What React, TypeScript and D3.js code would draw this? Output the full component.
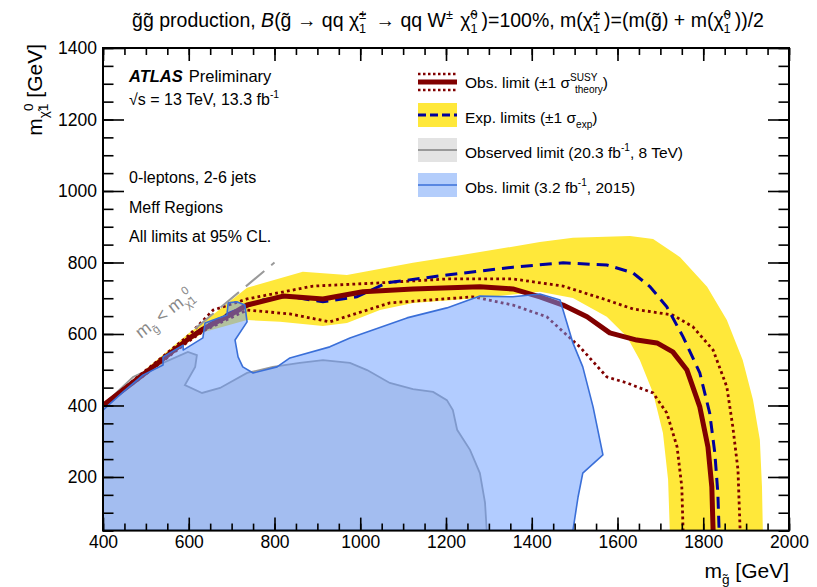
import React, { useEffect, useRef } from 'react';
import * as d3 from 'd3';

const W = 817;
const H = 587;
const FONT = '"Liberation Sans", Arial, Helvetica, sans-serif';

const xMajor = [400, 600, 800, 1000, 1200, 1400, 1600, 1800, 2000];
const yMajor = [200, 400, 600, 800, 1000, 1200, 1400];
const xMinor = d3.range(400, 2001, 50);
const yMinor = d3.range(50, 1401, 50);

// observed limit, nominal and +-1 sigma theory
const obsNominal = [
  [400, 400], [500, 492], [600, 587], [638, 617], [696, 653], [736, 681], [820, 706], [913, 698],
  [1006, 718], [1123, 726], [1279, 732], [1356, 726], [1419, 704], [1473, 681], [1529, 648],
  [1582, 603], [1645, 583], [1692, 575], [1729, 550], [1762, 499], [1792, 396], [1811, 284],
  [1820, 172], [1823, 50],
];
const obsUp = [
  [400, 401], [500, 498], [600, 596], [657, 667], [736, 698], [890, 734], [1046, 743], [1202, 754],
  [1356, 754], [1473, 734], [1575, 695], [1636, 670], [1729, 653], [1776, 620], [1823, 555],
  [1855, 452], [1869, 340], [1881, 220], [1886, 50],
];
const obsDown = [
  [400, 399], [500, 488], [600, 580], [638, 611], [736, 667], [836, 656], [929, 634], [1069, 687],
  [1263, 704], [1356, 681], [1435, 648], [1512, 564], [1575, 480], [1622, 463], [1683, 435],
  [1715, 379], [1739, 284], [1750, 172], [1753, 50],
];

// expected limit and +-1 sigma band
const expNominal = [
  [400, 400], [500, 493], [600, 588], [633, 617], [696, 659], [773, 695], [829, 706], [913, 690],
  [992, 704], [1062, 743], [1202, 765], [1356, 787], [1473, 799], [1575, 793], [1636, 771],
  [1676, 732], [1715, 676], [1753, 592], [1792, 491], [1815, 379], [1827, 267], [1834, 156], [1837, 50],
];
const expBandUp = [
  [400, 402], [500, 502], [600, 602], [626, 625], [736, 729], [866, 774], [969, 765], [1123, 799],
  [1279, 829], [1419, 857], [1496, 869], [1629, 874], [1683, 866], [1746, 815], [1809, 732],
  [1855, 639], [1892, 527], [1916, 416], [1932, 304], [1937, 172], [1939, 50],
];
const expBandDown = [
  [400, 398], [500, 486], [600, 578], [638, 606], [736, 639], [813, 634], [913, 622], [969, 631],
  [1046, 667], [1123, 687], [1279, 701], [1419, 718], [1496, 701], [1575, 648], [1622, 592],
  [1652, 527], [1683, 435], [1706, 323], [1718, 192], [1722, 50],
];

// 8 TeV (20.3 fb-1) observed limit
const run1Limit = [
  [400, 50], [400, 401], [470, 480], [540, 519], [598, 550], [619, 541], [615, 508], [591, 457],
  [631, 435], [673, 449], [736, 491], [796, 508], [859, 519], [913, 527], [976, 519], [1016, 499],
  [1069, 463], [1123, 446], [1170, 438], [1202, 415], [1216, 387], [1226, 332], [1256, 276],
  [1279, 211], [1291, 128], [1295, 50],
];

// 2015 (3.2 fb-1) observed limit
const early2015Limit = [
  [400, 50], [400, 387], [447, 438], [493, 485], [540, 513], [540, 536], [587, 569], [587, 555],
  [633, 589], [638, 631], [689, 653], [692, 687], [712, 690], [731, 681], [736, 634], [708, 583],
  [715, 536], [726, 508], [750, 491], [806, 508], [836, 533], [929, 564], [976, 589], [1109, 645],
  [1202, 673], [1279, 706], [1356, 704], [1419, 712], [1466, 695], [1496, 575], [1519, 508],
  [1543, 396], [1566, 262], [1519, 211], [1508, 144], [1496, 50],
];

const kinematicLine = [[615, 615], [800, 800]];

const YELLOW = '#ffe83a';
const RED = '#800000';
const NAVY = '#00009c';
const BLUE_LINE = '#3a6fd8';

// text with sub/superscripts
type Seg = string | { t?: string; i?: boolean; sup?: string; sub?: string; gap?: number };
const Rich = ({ x, y, fs, segs, anchor = 'start', fill = '#000', transform }: any) => {
  let cur = 0;
  let pad = 0;
  const out: any[] = [];
  const small = fs * 0.65;
  const wid = (s: string) => s.length * small * 0.56;
  (segs as Seg[]).forEach((s, k) => {
    if (typeof s === 'string' || s.t !== undefined) {
      const txt = typeof s === 'string' ? s : s.t;
      out.push(
        <tspan key={k} dx={pad || undefined} dy={-cur} fontStyle={typeof s !== 'string' && s.i ? 'italic' : undefined}>{txt}</tspan>
      );
      cur = 0;
      pad = 0;
    } else if (s.sup !== undefined && s.sub !== undefined) {
      const up = -0.42 * fs;
      const dn = 0.3 * fs;
      out.push(<tspan key={k + 'a'} dx={pad || undefined} dy={up - cur} fontSize={small}>{s.sup}</tspan>);
      out.push(<tspan key={k + 'b'} dx={-wid(s.sup)} dy={dn - up} fontSize={small}>{s.sub}</tspan>);
      cur = dn;
      pad = s.gap || 0;
    } else if (s.sup !== undefined) {
      const up = -0.42 * fs;
      out.push(<tspan key={k} dx={pad || undefined} dy={up - cur} fontSize={small}>{s.sup}</tspan>);
      cur = up;
      pad = s.gap || 0;
    } else if (s.sub !== undefined) {
      const dn = 0.3 * fs;
      out.push(<tspan key={k} dx={pad || undefined} dy={dn - cur} fontSize={small}>{s.sub}</tspan>);
      cur = dn;
      pad = s.gap || 0;
    }
  });
  return (
    <text x={x} y={y} fontSize={fs} textAnchor={anchor} fill={fill} transform={transform} fontFamily={FONT}>
      {out}
    </text>
  );
};

const gt = 'g\u0303';
const chi = '\u03c7\u0303';

const App = () => {
  const ref = useRef<SVGGElement>(null);

  const x = d3.scaleLinear().domain([400, 2000]).range([103, 789]);
  const y = d3.scaleLinear().domain([50, 1400]).range([530.6, 48]);
  const line = d3.line<number[]>().x(d => x(d[0])).y(d => y(d[1]));
  const area = (pts: number[][]) => line(pts) + 'Z';

  useEffect(() => {
    const g = d3.select(ref.current);
    g.selectAll('*').remove();
    const [x0, x1] = x.range();
    const [y0, y1] = y.range();

    const style = (sel: any) => {
      sel.select('.domain').remove();
      sel.selectAll('line').attr('stroke', '#000').attr('stroke-width', 1.6);
      sel.selectAll('text').attr('font-family', FONT).attr('font-size', 17.5).attr('fill', '#000');
    };

    g.append('g').attr('transform', `translate(0,${y0})`)
      .call(d3.axisBottom(x).tickValues(xMinor).tickSize(-7).tickFormat(() => '')).call(style);
    g.append('g').attr('transform', `translate(0,${y0})`)
      .call(d3.axisBottom(x).tickValues(xMajor).tickSize(-13).tickPadding(5).tickFormat(d3.format('d'))).call(style);
    g.append('g').attr('transform', `translate(0,${y1})`)
      .call(d3.axisTop(x).tickValues(xMinor).tickSize(-7).tickFormat(() => '')).call(style);
    g.append('g').attr('transform', `translate(0,${y1})`)
      .call(d3.axisTop(x).tickValues(xMajor).tickSize(-13).tickFormat(() => '')).call(style);

    g.append('g').attr('transform', `translate(${x0},0)`)
      .call(d3.axisLeft(y).tickValues(yMinor).tickSize(-10.5).tickFormat(() => '')).call(style);
    g.append('g').attr('transform', `translate(${x0},0)`)
      .call(d3.axisLeft(y).tickValues(yMajor).tickSize(-21).tickPadding(6).tickFormat(d3.format('d'))).call(style);
    g.append('g').attr('transform', `translate(${x1},0)`)
      .call(d3.axisRight(y).tickValues(yMinor).tickSize(-10.5).tickFormat(() => '')).call(style);
    g.append('g').attr('transform', `translate(${x1},0)`)
      .call(d3.axisRight(y).tickValues(yMajor).tickSize(-21).tickFormat(() => '')).call(style);

    g.append('rect')
      .attr('x', x0).attr('y', y1).attr('width', x1 - x0).attr('height', y0 - y1)
      .attr('fill', 'none').attr('stroke', '#000').attr('stroke-width', 2);
  }, []);

  return (
    <svg width={W} height={H} style={{ position: 'absolute', left: 0, top: 0, background: '#fff' }}>
      <defs>
        <clipPath id="plot">
          <rect x={103} y={48} width={686} height={482.6} />
        </clipPath>
      </defs>

      <g clipPath="url(#plot)">
        <path d={area(expBandUp.concat(expBandDown.slice().reverse()))} fill={YELLOW} />
        <path d={area(run1Limit)} fill="#e0e0e0" stroke="#999" strokeWidth={1.8} />
        <path d={line(obsUp) || ''} stroke={RED} strokeWidth={2.8} strokeDasharray="2.8,3.2" fill="none" />
        <path d={line(obsDown) || ''} stroke={RED} strokeWidth={2.8} strokeDasharray="2.8,3.2" fill="none" />
        <path d={line(expNominal) || ''} stroke={NAVY} strokeWidth={3} strokeDasharray="12,7" fill="none" />
        <path d={line(obsNominal) || ''} stroke={RED} strokeWidth={5} fill="none" strokeLinejoin="round" />
        <path d={area(early2015Limit)} fill="#6699ff" fillOpacity={0.5} stroke={BLUE_LINE} strokeWidth={1.6} strokeLinejoin="round" />
        <path d={line(kinematicLine) || ''} stroke="#999" strokeWidth={2} strokeDasharray="24,9" fill="none" />
      </g>

      <g ref={ref} />

      {/* title */}
      <Rich x={448} y={27} fs={19.5} anchor="middle" segs={[
        `${gt}${gt} production, `, { t: 'B', i: true }, `(${gt} \u2192 qq ${chi}`, { sup: '\u00b1', sub: '1', gap: 4 },
        ' \u2192 qq W', { sup: '\u00b1', gap: 2 }, ` ${chi}`, { sup: '0', sub: '1', gap: 4 }, ')=100%, m(', chi,
        { sup: '\u00b1', sub: '1', gap: 4 }, `)=(m(${gt}) + m(${chi}`, { sup: '0', sub: '1', gap: 4 }, '))/2',
      ]} />

      {/* axis titles */}
      <Rich x={789} y={578} fs={21} anchor="end" segs={['m', { sub: gt }, ' [GeV]']} />
      <g transform="translate(42,44) rotate(-90)">
        <Rich x={0} y={0} fs={21} anchor="end" segs={['m', { sub: chi }, { sup: '0', sub: '1' }, ' [GeV]']} />
      </g>

      {/* kinematic label */}
      <g transform="translate(141,339) rotate(-38)">
        <Rich x={0} y={0} fs={17.5} fill="#888" segs={['m', { sub: gt }, ' < m', { sub: chi }, { sup: '0', sub: '1' }]} />
      </g>

      {/* ATLAS labels */}
      <text x={129} y={82} fontFamily={FONT} fontSize={16.5}>
        <tspan fontWeight="bold" fontStyle="italic">ATLAS</tspan>
        <tspan dx={6}>Preliminary</tspan>
      </text>
      <Rich x={129} y={105} fs={16} segs={['\u221as = 13 TeV, 13.3 fb', { sup: '-1' }]} />
      <text x={129} y={183} fontFamily={FONT} fontSize={16}>0-leptons, 2-6 jets</text>
      <text x={129} y={213} fontFamily={FONT} fontSize={16}>Meff Regions</text>
      <text x={129} y={242} fontFamily={FONT} fontSize={16}>All limits at 95% CL.</text>

      {/* legend */}
      <line x1={418} x2={457} y1={74} y2={74} stroke={RED} strokeWidth={2.5} strokeDasharray="2.5,2.5" />
      <line x1={418} x2={457} y1={90} y2={90} stroke={RED} strokeWidth={2.5} strokeDasharray="2.5,2.5" />
      <line x1={418} x2={457} y1={82} y2={82} stroke={RED} strokeWidth={5} />
      <Rich x={465} y={88} fs={15.5} segs={['Obs. limit (\u00b11 \u03c3', { sup: 'SUSY', sub: 'theory' }, ')']} />

      <rect x={418} y={103} width={39} height={24} fill={YELLOW} />
      <line x1={418} x2={457} y1={115} y2={115} stroke={NAVY} strokeWidth={3} strokeDasharray="8,4" />
      <Rich x={465} y={123} fs={15.5} segs={['Exp. limits (\u00b11 \u03c3', { sub: 'exp' }, ')']} />

      <rect x={418} y={138} width={39} height={24} fill="#e3e3e3" />
      <line x1={418} x2={457} y1={150} y2={150} stroke="#999" strokeWidth={2} />
      <Rich x={465} y={158} fs={15.5} segs={['Observed limit (20.3 fb', { sup: '-1' }, ', 8 TeV)']} />

      <rect x={418} y={173} width={39} height={24} fill="#b3cdfb" />
      <line x1={418} x2={457} y1={185} y2={185} stroke={BLUE_LINE} strokeWidth={1.6} />
      <Rich x={465} y={193} fs={15.5} segs={['Obs. limit (3.2 fb', { sup: '-1' }, ', 2015)']} />
    </svg>
  );
};

export default App;
